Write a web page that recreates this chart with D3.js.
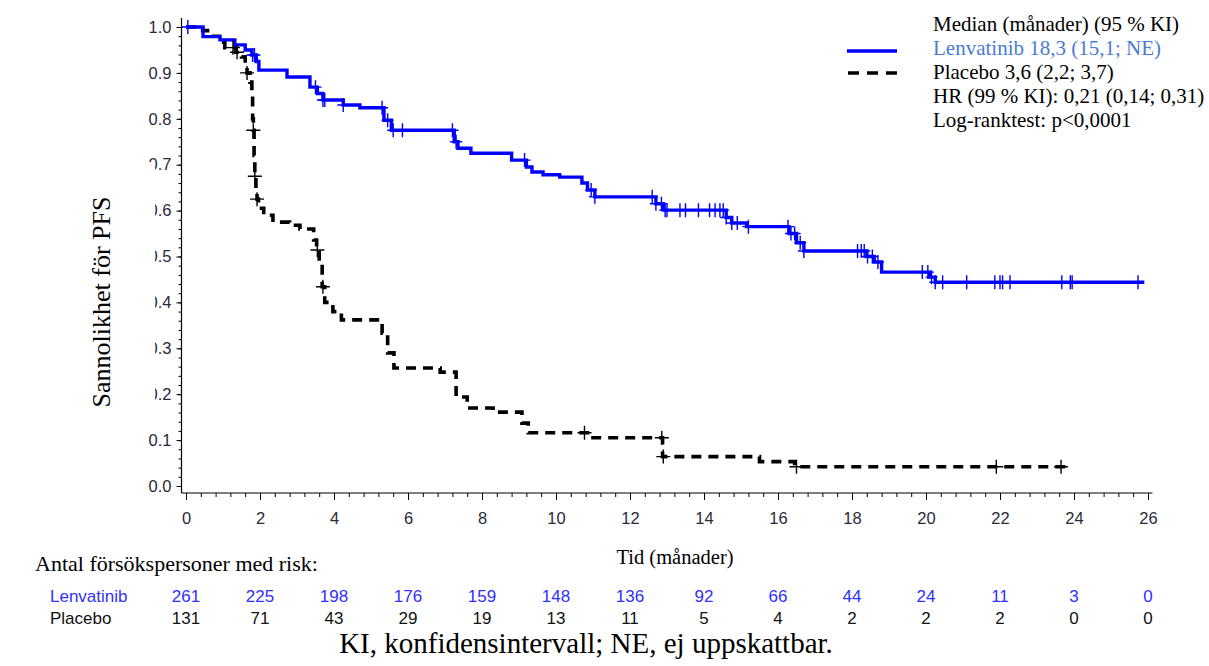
<!DOCTYPE html>
<html><head><meta charset="utf-8">
<script src="https://cdn.jsdelivr.net/npm/d3@7"></script>
<style>body{margin:0;background:#fff}svg{display:block}</style>
</head><body>
<svg id="c" width="1209" height="666"></svg>
<script>
// ---- data ----
const lenvTimes = [0, 0.46, 0.92, 1.32, 1.6, 1.78, 1.9, 1.97, 2.73, 3.35, 3.55, 3.7, 4.25, 4.7, 5.35, 5.55, 7.25, 7.35, 7.7, 8.8, 9.2, 9.35, 9.65, 10.1, 10.7, 10.85, 11.05, 12.7, 12.9, 14.6, 14.75, 15.15, 16.3, 16.5, 16.7, 18.4, 18.6, 18.8, 20.1, 20.25];
const lenvSurv  = [1.0, 0.979, 0.972, 0.961, 0.95, 0.939, 0.925, 0.906, 0.891, 0.869, 0.855, 0.841, 0.83, 0.824, 0.797, 0.775, 0.75, 0.736, 0.725, 0.71, 0.695, 0.684, 0.678, 0.673, 0.66, 0.645, 0.63, 0.615, 0.601, 0.585, 0.573, 0.565, 0.55, 0.53, 0.512, 0.5, 0.488, 0.466, 0.455, 0.444];
const lenvCensor = [0.05, 1.8, 1.85, 3.5, 3.7, 3.75, 4.25, 5.3, 5.45, 5.6, 5.85, 7.2, 7.3, 9.15, 10.95, 11.05, 12.6, 12.7, 12.85, 12.95, 13.0, 13.35, 13.5, 13.85, 14.15, 14.3, 14.43, 14.52, 14.6, 14.75, 14.9, 15.2, 16.27, 16.35, 16.45, 16.6, 16.7, 18.15, 18.25, 18.33, 18.42, 18.55, 18.7, 19.9, 20.05, 20.15, 20.25, 20.45, 21.1, 21.86, 22.0, 22.07, 22.27, 23.67, 23.9, 23.95, 25.73];
const lenvEnd = 25.9;

const placTimes = [0, 0.45, 0.7, 0.9, 1.05, 1.35, 1.5, 1.6, 1.65, 1.73, 1.78, 1.8, 1.82, 1.84, 1.86, 1.89, 1.92, 1.96, 2.1, 2.35, 2.8, 3.08, 3.45, 3.53, 3.6, 3.68, 3.75, 3.97, 4.2, 5.3, 5.45, 5.62, 6.87, 7.3, 7.6, 8.3, 9.08, 9.25, 10.85, 12.88, 15.5, 16.45];
const placSurv  = [1.0, 0.992, 0.98, 0.967, 0.955, 0.945, 0.935, 0.92, 0.90, 0.88, 0.86, 0.80, 0.775, 0.72, 0.675, 0.64, 0.625, 0.605, 0.59, 0.575, 0.568, 0.56, 0.536, 0.514, 0.49, 0.434, 0.40, 0.38, 0.362, 0.333, 0.29, 0.257, 0.248, 0.194, 0.17, 0.161, 0.137, 0.116, 0.105, 0.064, 0.053, 0.042];
const placCensor = [1.27, 1.38, 1.65, 1.82, 1.86, 1.92, 3.55, 3.7, 10.77, 12.86, 12.9, 16.5, 21.9, 23.65];
const placEnd = 23.8;

const xTickValues = [0, 2, 4, 6, 8, 10, 12, 14, 16, 18, 20, 22, 24, 26];
const yTickValues = [0, 0.1, 0.2, 0.3, 0.4, 0.5, 0.6, 0.7, 0.8, 0.9, 1.0];
const riskTimes = [0, 2, 4, 6, 8, 10, 12, 14, 16, 18, 20, 22, 24, 26];
const riskLenv = [261, 225, 198, 176, 159, 148, 136, 92, 66, 44, 24, 11, 3, 0];
const riskPlac = [131, 71, 43, 29, 19, 13, 11, 5, 4, 2, 2, 2, 0, 0];
const legendTitle = "Median (månader) (95 % KI)";
const legendLenv = "Lenvatinib 18,3 (15,1; NE)";
const legendPlac = "Placebo 3,6 (2,2; 3,7)";
const legendHR = "HR (99 % KI): 0,21 (0,14; 0,31)";
const legendLR = "Log-ranktest: p<0,0001";

// ---- drawing ----
const SERIF = "'Liberation Serif','Times New Roman',serif";
const SANS = "'Liberation Sans',Arial,sans-serif";
const svg = d3.select("#c");
const x = d3.scaleLinear().domain([0, 26]).range([186, 1148]);
const y = d3.scaleLinear().domain([0, 1]).range([486, 27]);
const axisY = 493, axisX = 181.5;

// x axis
const gx = svg.append("g").attr("transform", `translate(0,${axisY})`);
gx.call(d3.axisBottom(x).tickValues(d3.range(0, 26.01, 0.4)).tickSize(4).tickFormat(""))
  .call(g => g.select(".domain").remove());
gx.append("g").call(d3.axisBottom(x).tickValues(xTickValues).tickSize(7).tickPadding(12).tickFormat(d3.format("d")))
  .call(g => g.select(".domain").remove())
  .call(g => g.selectAll("text").attr("font-family", SANS).attr("font-size", 16.5).attr("fill", "#2a2a3a"));
gx.selectAll("line").attr("stroke", "#000").attr("stroke-width", 1);
gx.append("line").attr("x1", axisX).attr("x2", x(26.12)).attr("y1", 0).attr("y2", 0).attr("stroke", "#000").attr("stroke-width", 1.2);

// y axis
const gy = svg.append("g").attr("transform", `translate(${axisX},0)`);
gy.call(d3.axisLeft(y).tickValues(d3.range(0, 1.001, 0.02)).tickSize(3).tickFormat(""))
  .call(g => g.select(".domain").remove());
gy.append("g").call(d3.axisLeft(y).tickValues(yTickValues).tickSize(5).tickPadding(5).tickFormat(d3.format(".1f")))
  .call(g => g.select(".domain").remove())
  .call(g => g.selectAll("text").attr("font-family", SANS).attr("font-size", 16.5).attr("fill", "#2a2a3a"));
gy.selectAll("line").attr("stroke", "#000").attr("stroke-width", 1);
gy.append("line").attr("x1", 0).attr("x2", 0).attr("y1", 18).attr("y2", axisY).attr("stroke", "#000").attr("stroke-width", 1.2);

// y label with white background box (covers part of tick labels as in source)
svg.append("rect").attr("x", 60).attr("y", 162).attr("width", 95).attr("height", 249).attr("fill", "#fff");
svg.append("text").attr("transform", "translate(110,302) rotate(-90)")
  .attr("text-anchor", "middle").attr("font-family", SERIF).attr("font-size", 26).attr("fill", "#000")
  .text("Sannolikhet för PFS");

// curves
function survAt(times, surv, t) {
  let s = surv[0];
  for (let i = 0; i < times.length; i++) if (times[i] <= t + 1e-9) s = surv[i];
  return s;
}
function pts(times, surv, end) {
  const p = times.map((t, i) => [t, surv[i]]);
  p.push([end, surv[surv.length - 1]]);
  return p;
}
const line = d3.line().x(d => x(d[0])).y(d => y(d[1])).curve(d3.curveStepAfter);

// placebo
svg.append("path").datum(pts(placTimes, placSurv, placEnd)).attr("d", line)
  .attr("fill", "none").attr("stroke", "#000").attr("stroke-width", 3.6).attr("stroke-dasharray", "10,7");
// lenvatinib
svg.append("path").datum(pts(lenvTimes, lenvSurv, lenvEnd)).attr("d", line)
  .attr("fill", "none").attr("stroke", "#0000ff").attr("stroke-width", 3.4);

// censor marks
function cross(t, s, hw, hh) {
  const cx = x(t), cy = y(s);
  return `M${cx - hw},${cy}H${cx + hw}M${cx},${cy - hh}V${cy + hh}`;
}
svg.append("g").selectAll("path").data(lenvCensor).join("path")
  .attr("d", t => cross(t, survAt(lenvTimes, lenvSurv, t), 6, 7))
  .attr("stroke", "#0000ff").attr("stroke-width", 1.4).attr("fill", "none");
svg.append("g").selectAll("path").data(placCensor).join("path")
  .attr("d", t => cross(t, survAt(placTimes, placSurv, t), 7, 7))
  .attr("stroke", "#000").attr("stroke-width", 1.4).attr("fill", "none");

// legend
const lg = svg.append("g");
lg.append("line").attr("x1", 847).attr("x2", 897).attr("y1", 51).attr("y2", 51).attr("stroke", "#0000ff").attr("stroke-width", 3.4);
lg.append("line").attr("x1", 848).attr("x2", 897).attr("y1", 73).attr("y2", 73).attr("stroke", "#000").attr("stroke-width", 3.6).attr("stroke-dasharray", "11,8");
const legendItems = [
  {t: legendTitle, c: "#000"},
  {t: legendLenv, c: "#4a7bd4"},
  {t: legendPlac, c: "#000"},
  {t: legendHR, c: "#000"},
  {t: legendLR, c: "#000"}
];
lg.selectAll("text").data(legendItems).join("text")
  .attr("x", 933).attr("y", (d, i) => 31 + 24 * i)
  .attr("font-family", SERIF).attr("font-size", 21).attr("fill", d => d.c).text(d => d.t);

// x title and risk table
svg.append("text").attr("x", 675).attr("y", 564).attr("text-anchor", "middle")
  .attr("font-family", SERIF).attr("font-size", 20.5).text("Tid (månader)");
svg.append("text").attr("x", 35).attr("y", 571)
  .attr("font-family", SERIF).attr("font-size", 22).text("Antal försökspersoner med risk:");

const rows = [
  {name: "Lenvatinib", vals: riskLenv, c: "#3030ff", yb: 602},
  {name: "Placebo", vals: riskPlac, c: "#111", yb: 624}
];
rows.forEach(r => {
  svg.append("text").attr("x", 50).attr("y", r.yb).attr("font-family", SANS).attr("font-size", 17).attr("fill", r.c).text(r.name);
  svg.append("g").selectAll("text").data(r.vals).join("text")
    .attr("x", (d, i) => x(riskTimes[i])).attr("y", r.yb).attr("text-anchor", "middle")
    .attr("font-family", SANS).attr("font-size", 17).attr("fill", r.c).text(d => d);
});

svg.append("text").attr("x", 586).attr("y", 653).attr("text-anchor", "middle")
  .attr("font-family", SERIF).attr("font-size", 29).text("KI, konfidensintervall; NE, ej uppskattbar.");
</script>
</body></html>
